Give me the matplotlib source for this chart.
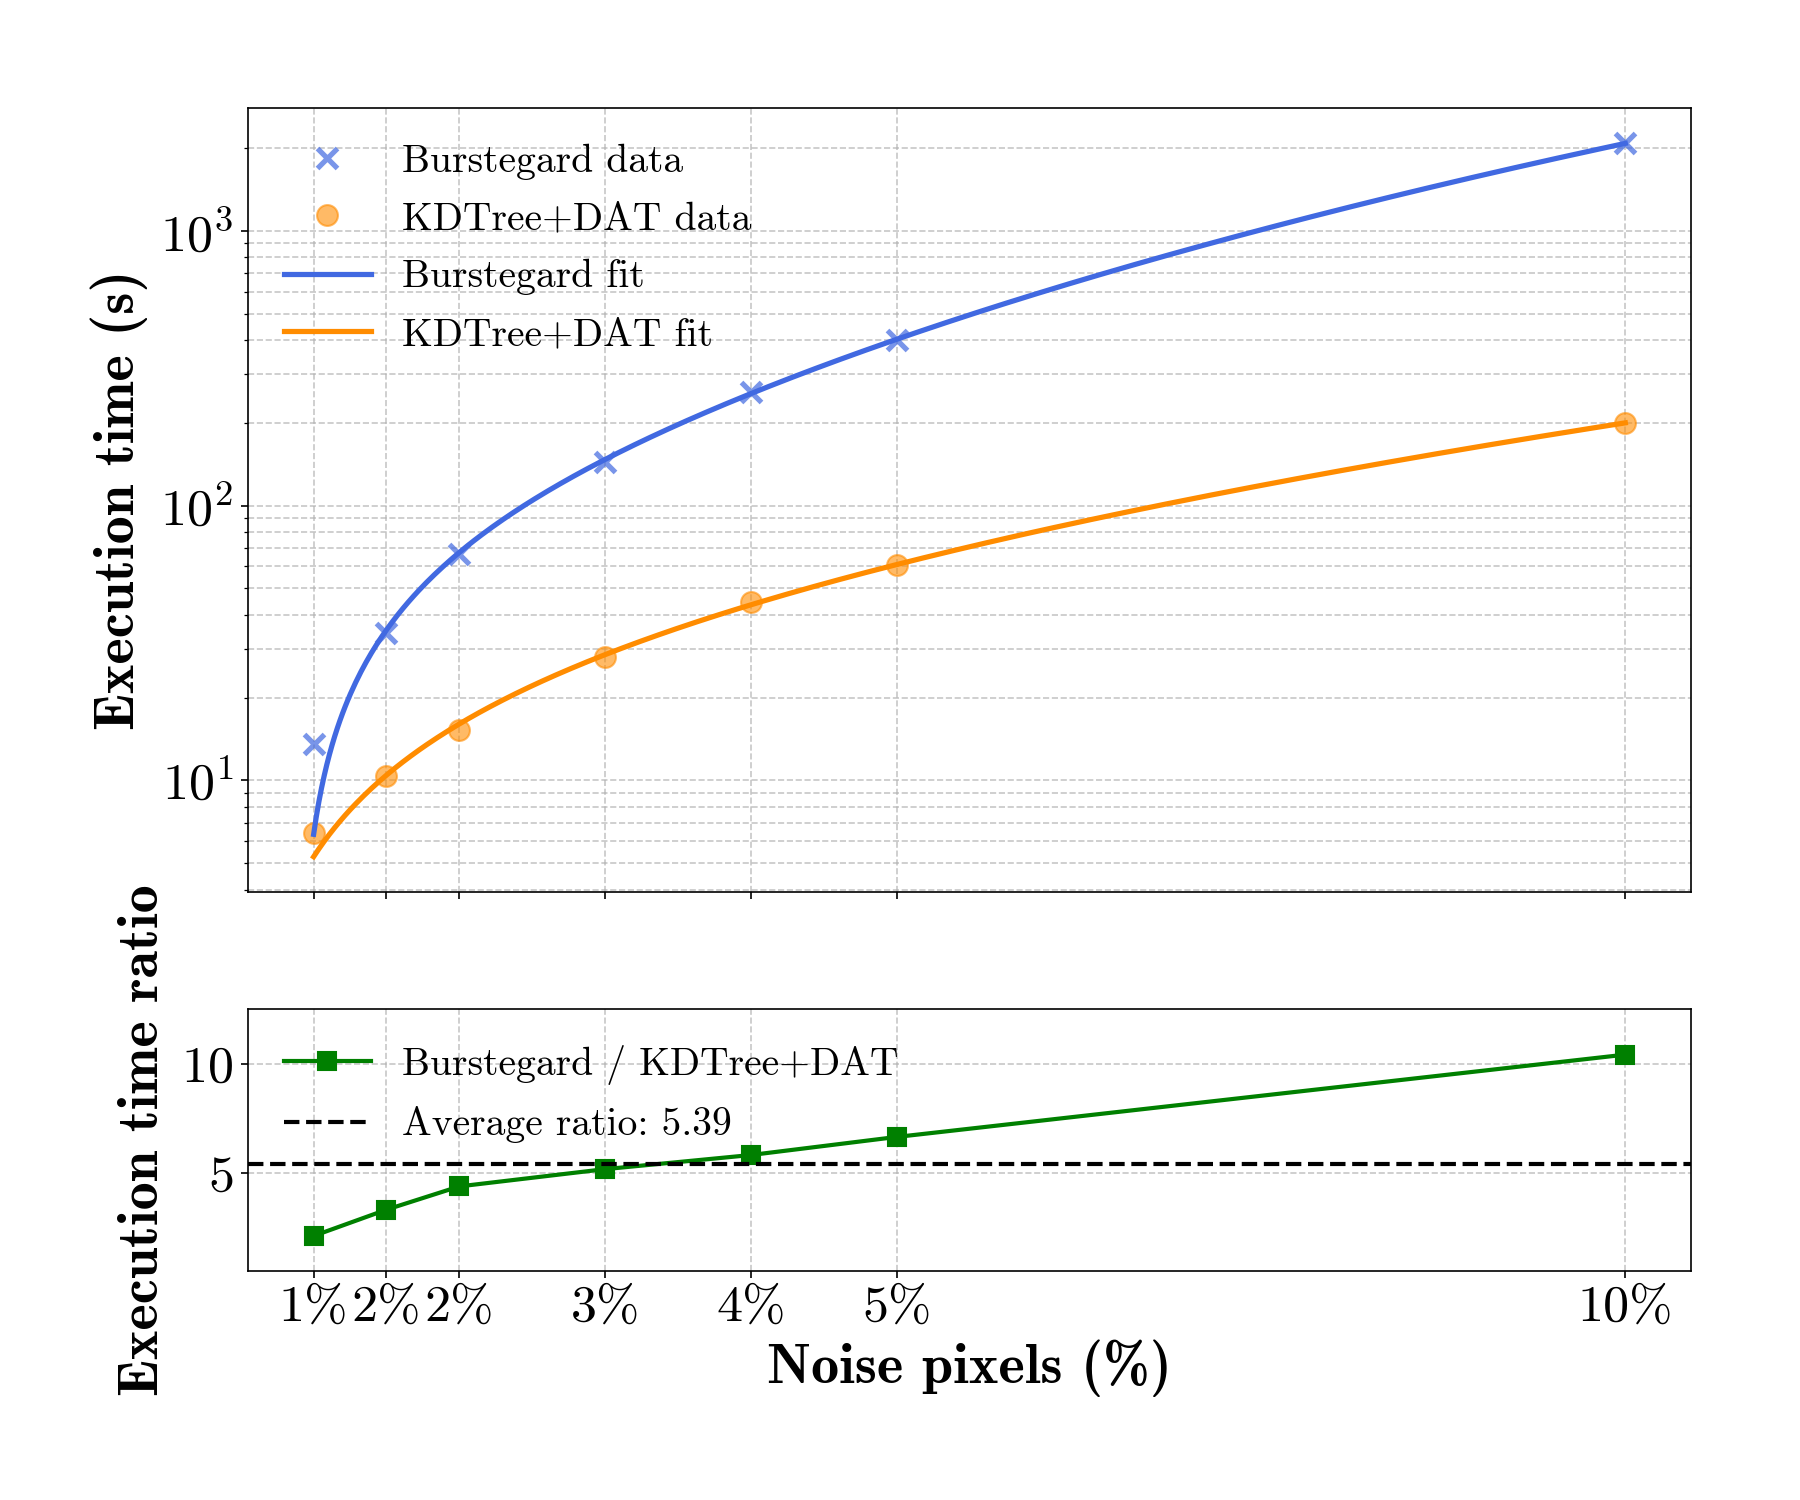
import numpy as np
import matplotlib
matplotlib.use('Agg')
import matplotlib.pyplot as plt

plt.rcParams['font.family'] = 'serif'
plt.rcParams['font.serif'] = ['cmr10']
plt.rcParams['mathtext.fontset'] = 'cm'
plt.rcParams['axes.formatter.use_mathtext'] = True
plt.rcParams['axes.unicode_minus'] = False

# ---------- data ----------
noise = [1, 1.5, 2, 3, 4, 5, 10]
noise_labels = ['1%', '2%', '2%', '3%', '4%', '5%', '10%']
burst_time = [13.5, 34.3, 66.8, 144.4, 258.3, 402, 2082]
kdtree_time = [6.45, 10.4, 15.3, 28.0, 44.5, 60.6, 200]

x = np.array(noise)
burst = np.array(burst_time)
kd = np.array(kdtree_time)

# cubic fits, weighted by sqrt of the time
x_fit = np.linspace(x.min(), x.max(), 500)
burst_fit = np.polyval(np.polyfit(x, burst, 3, w=np.sqrt(burst)), x_fit)
kd_fit = np.polyval(np.polyfit(x, kd, 3, w=np.sqrt(kd)), x_fit)

ratio = burst / kd
avg_ratio = ratio.mean()

# ---------- plot ----------
fig, (ax1, ax2) = plt.subplots(2, 1, figsize=(12, 10), dpi=150, sharex=True,
                               gridspec_kw={'height_ratios': [3, 1]})
fig.subplots_adjust(left=0.1378, right=0.9394, top=0.9282, bottom=0.1529, hspace=0.223)

leg_kw = dict(fontsize=19, frameon=False, loc='upper left', handlelength=2.2,
              labelspacing=0.55)

ax1.plot(x, burst, 'x', color='royalblue', ms=10, mew=2.5, alpha=0.7, label='Burstegard data')
ax1.plot(x, kd, 'o', color='darkorange', ms=10, alpha=0.6, label='KDTree+DAT data')
ax1.plot(x_fit, burst_fit, '-', color='royalblue', lw=2.5, label='Burstegard fit')
ax1.plot(x_fit, kd_fit, '-', color='darkorange', lw=2.5, label='KDTree+DAT fit')
ax1.set_yscale('log')
ax1.set_ylabel('Execution time (s)', fontfamily='cmb10', fontsize=27, labelpad=6)
ax1.tick_params(axis='both', labelsize=25)
ax1.grid(True, which='both', linestyle='--', alpha=0.7)
ax1.legend(**leg_kw)

ax2.plot(x, ratio, 's-', color='green', lw=2, ms=9, label='Burstegard / KDTree+DAT')
ax2.axhline(avg_ratio, color='black', linestyle='--', lw=2,
            label=f'Average ratio: {avg_ratio:.2f}')
ax2.set_ylim(0.5, 12.5)
ax2.set_yticks([5, 10])
ax2.set_xticks(noise)
ax2.set_xticklabels(noise_labels)
ax2.set_xlabel('Noise pixels (%)', fontfamily='cmb10', fontsize=27)
ax2.set_ylabel('Execution time ratio', fontfamily='cmb10', fontsize=27, labelpad=6)
ax2.tick_params(axis='both', labelsize=25)
ax2.grid(True, linestyle='--', alpha=0.7)
ax2.legend(**leg_kw)

fig.savefig('out.png', dpi=150)
